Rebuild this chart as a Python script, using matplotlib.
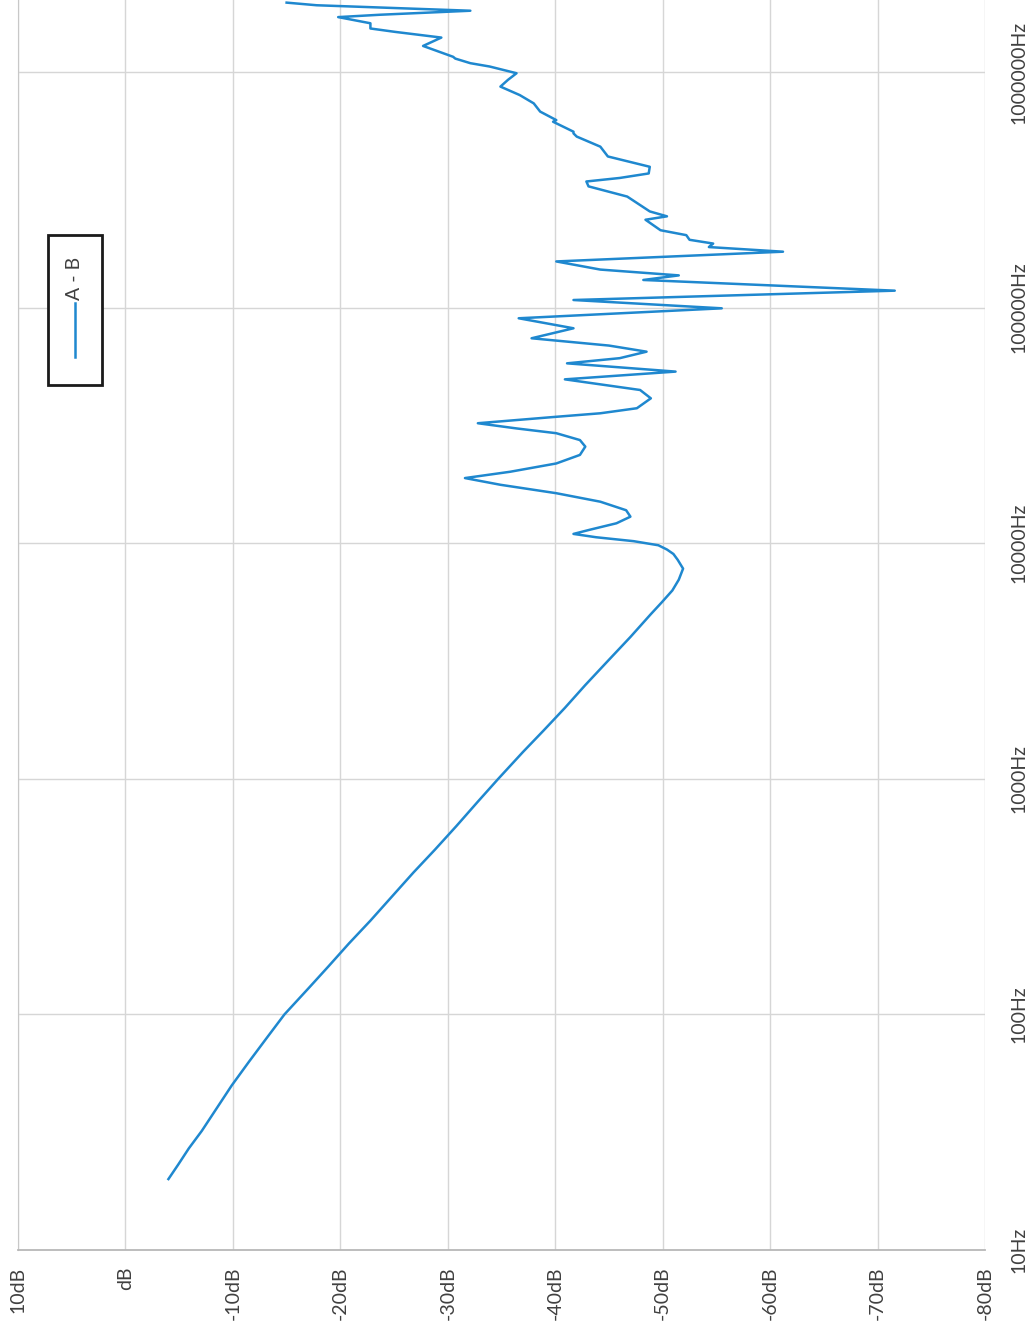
import matplotlib
matplotlib.use("Agg")
import matplotlib.pyplot as plt
from matplotlib.patches import Rectangle
from matplotlib.lines import Line2D
from matplotlib.ticker import NullLocator

# ---- data ----
freq_hz = [20, 23, 27, 32, 40, 50, 63, 80, 100, 130, 160, 200, 250, 320, 400, 500,
           630, 800, 1000, 1300, 1600, 2000, 2500, 3200, 4000, 5000, 5600, 6300,
           7000, 7800, 8500, 9000, 9400, 9800, 10200, 10600, 10950, 11400, 12150,
           12960, 13800, 15000, 16300, 17700, 18900, 20100, 21800, 23700, 25700,
           27400, 29300, 30700, 32300, 34400, 35600, 37400, 41200, 44700, 49600,
           53500, 58000, 61000, 65000, 69000, 74100, 81700, 90100, 99300, 107700,
           118000, 131000, 137000, 145000, 157000, 172700, 180700, 187000, 194000,
           203000, 213000, 236000, 244000, 256000, 296000, 327000, 343000, 355000,
           371000, 396000, 438000, 482000, 532000, 549000, 558000, 615000, 625000,
           679000, 736000, 798000, 867000, 926000, 988000, 1055000, 1090000,
           1140000, 1160000, 1290000, 1400000, 1480000, 1530000, 1610000, 1710000,
           1750000, 1820000, 1920000, 1970000]
a_minus_b_db = [-4.0, -4.9, -5.9, -7.1, -8.5, -9.9, -11.5, -13.2, -14.8, -17.1, -18.9,
                -20.8, -22.8, -24.9, -26.8, -28.8, -30.8, -32.8, -34.7, -37.0, -38.9,
                -40.9, -42.8, -45.0, -47.0, -48.9, -49.9, -50.9, -51.5, -51.9, -51.4,
                -51.0, -50.4, -49.6, -47.3, -43.8, -41.7, -43.2, -45.7, -47.0, -46.6,
                -44.2, -40.1, -34.9, -31.6, -35.8, -40.1, -42.3, -42.8, -42.3, -40.1,
                -36.4, -32.8, -40.1, -44.2, -47.6, -48.9, -47.9, -40.9, -51.2, -41.1,
                -46.0, -48.5, -45.0, -37.8, -41.7, -36.6, -55.5, -41.7, -71.6, -48.2,
                -51.5, -44.2, -40.1, -61.2, -54.3, -54.7, -52.5, -52.2, -49.8, -48.4,
                -50.4, -48.8, -46.7, -43.1, -42.9, -46.0, -48.7, -48.8, -44.9, -44.2,
                -42.0, -41.7, -41.7, -39.8, -40.1, -38.6, -38.0, -36.7, -34.9, -35.6,
                -36.4, -33.9, -32.1, -30.7, -30.5, -27.7, -29.4, -25.1, -22.8, -22.8,
                -19.8, -23.7, -32.1, -17.8, -15.0]

db_ticks = [10, 0, -10, -20, -30, -40, -50, -60, -70, -80]
db_labels = ["10dB", "dB", "-10dB", "-20dB", "-30dB", "-40dB", "-50dB", "-60dB",
             "-70dB", "-80dB"]
freq_ticks = [10, 100, 1000, 10000, 100000, 1000000]
freq_labels = ["10Hz", "100Hz", "1000Hz", "10000Hz", "100000Hz", "1000000Hz"]
series_name = "A - B"

# ---- style ----
plt.rcParams['font.family'] = ['Lato', 'DejaVu Sans']
text_color = '#404040'
line_color = '#1f88cf'
grid_color = '#d6d6d6'

W, H = 1026, 1330
fig = plt.figure(figsize=(W / 100, H / 100), dpi=100)
ax = fig.add_axes([18 / W, 1 - 1250 / H, 967 / W, 1250 / H])

ax.set_yscale('log')
ax.set_ylim(10, 10 ** (1 + 1250 / 235.6))
ax.set_xlim(10, -80)

ax.plot(a_minus_b_db, freq_hz, color=line_color, lw=1.8, zorder=3,
        solid_joinstyle='round')

ax.set_xticks(db_ticks)
ax.set_xticklabels(db_labels, rotation=90, color=text_color, fontsize=14)
ax.yaxis.tick_right()
ax.set_yticks(freq_ticks)
ax.set_yticklabels(freq_labels, rotation=90, va='center', color=text_color,
                   fontsize=14)
ax.yaxis.set_minor_locator(NullLocator())
ax.tick_params(axis='x', length=0, pad=12)
ax.tick_params(axis='y', length=0, pad=18)

ax.grid(True, color=grid_color, lw=1.0, zorder=0)
ax.set_axisbelow(True)
for s in ['top', 'right']:
    ax.spines[s].set_visible(False)
ax.spines['left'].set_color('#c8c8c8')
ax.spines['bottom'].set_color('#b8b8b8')
ax.spines['bottom'].set_linewidth(1.3)

# ---- rotated legend ----
x0, x1 = 30 / 967, 84 / 967
y0, y1 = 1 - 385 / 1250, 1 - 235 / 1250
ax.add_patch(Rectangle((x0, y0), x1 - x0, y1 - y0, transform=ax.transAxes,
                       facecolor='white', edgecolor='#1a1a1a', lw=2.0, zorder=5))
xc = (x0 + x1) / 2
ax.add_line(Line2D([xc, xc], [1 - 357 / 1250, 1 - 303 / 1250],
                   transform=ax.transAxes, color=line_color, lw=1.8, zorder=6))
ax.text(xc, 1 - 278 / 1250, series_name, transform=ax.transAxes, rotation=90,
        ha='center', va='center', fontsize=14, color=text_color, zorder=6)

fig.savefig('out.png', dpi=100)
